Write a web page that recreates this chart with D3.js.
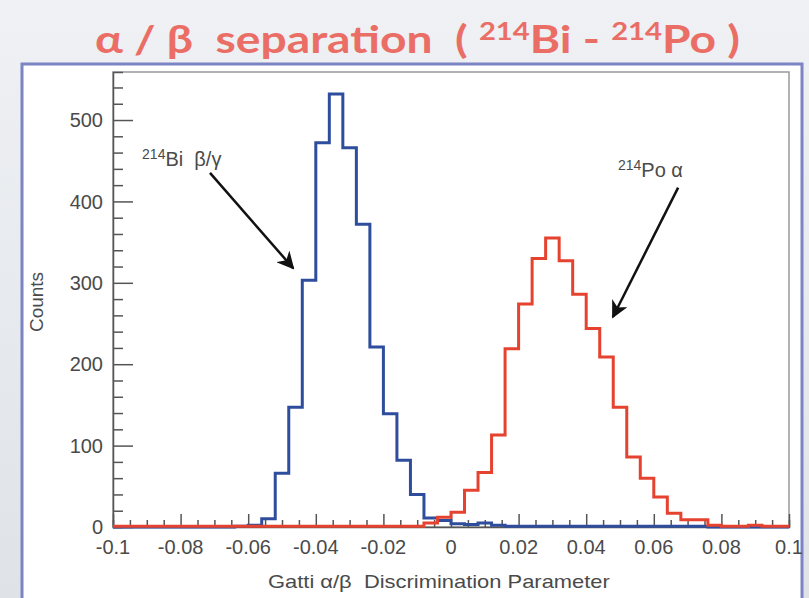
<!DOCTYPE html>
<html>
<head>
<meta charset="utf-8">
<script src="https://cdn.jsdelivr.net/npm/d3@7"></script>
<style>
  html, body { margin: 0; padding: 0; background: #e8ebef; }
  svg { display: block; }
</style>
</head>
<body>
<div id="draw"></div>
<script>
// bin lower edges (and final upper edge), Gatti parameter
const binEdges = [-0.1, -0.096, -0.092, -0.088, -0.084, -0.08, -0.076, -0.072, -0.068, -0.064,
  -0.06, -0.056, -0.052, -0.048, -0.044, -0.04, -0.036, -0.032, -0.028, -0.024,
  -0.02, -0.016, -0.012, -0.008, -0.004, 0, 0.004, 0.008, 0.012, 0.016,
  0.02, 0.024, 0.028, 0.032, 0.036, 0.04, 0.044, 0.048, 0.052, 0.056,
  0.06, 0.064, 0.068, 0.072, 0.076, 0.08, 0.084, 0.088, 0.092, 0.096, 0.1];

// 214Bi beta/gamma counts per bin
const biCounts = [0, 0, 0, 0, 0, 0, 0, 0, 0, 1,
  2, 10, 66, 147, 303, 472, 532, 466, 372, 221,
  139, 82, 40, 11, 8, 4, 3, 5, 2, 1,
  1, 1, 1, 1, 1, 1, 1, 1, 1, 1,
  1, 1, 1, 1, 0, 0, 0, 0, 0, 0];

// 214Po alpha counts per bin
const poCounts = [1, 1, 1, 1, 1, 1, 1, 1, 1, 1,
  1, 1, 1, 1, 1, 1, 1, 1, 1, 1,
  1, 1, 1, 5, 12, 18, 45, 67, 113, 219,
  274, 330, 355, 327, 286, 244, 209, 147, 86, 60,
  37, 17, 9, 9, 2, 1, 1, 2, 1, 1];

const xTicks = [-0.1, -0.08, -0.06, -0.04, -0.02, 0, 0.02, 0.04, 0.06, 0.08, 0.1];
const xTickLabels = ["-0.1", "-0.08", "-0.06", "-0.04", "-0.02", "0", "0.02", "0.04", "0.06", "0.08", "0.1"];
const yTicks = [0, 100, 200, 300, 400, 500];

let W = 809, H = 598;
let svg = d3.select('#draw').append('svg').attr('width', W).attr('height', H);

// page background
let defs = svg.append('defs');
let grad = defs.append('linearGradient').attr('id', 'bg').attr('x1', 0).attr('y1', 0).attr('x2', 0).attr('y2', 1);
grad.append('stop').attr('offset', '0%').attr('stop-color', '#eff1f4');
grad.append('stop').attr('offset', '100%').attr('stop-color', '#dfe3e8');
svg.append('rect').attr('width', W).attr('height', H).attr('fill', 'url(#bg)');

// arrowhead
defs.append('marker')
  .attr('id', 'arrowhead')
  .attr('viewBox', '0 0 10 10')
  .attr('refX', 9).attr('refY', 5)
  .attr('markerWidth', 7).attr('markerHeight', 7)
  .attr('markerUnits', 'strokeWidth')
  .attr('orient', 'auto')
  .append('path').attr('d', 'M0,0 L10,5 L0,10 L3,5 Z').attr('fill', '#111');

// title
let title = svg.append('text')
  .attr('x', 0).attr('y', 53)
  .attr('font-family', 'Lato, "Open Sans", sans-serif')
  .attr('font-weight', 700).attr('font-size', 38)
  .attr('fill', '#ea6e66')
  .style('white-space', 'pre');
title.append('tspan').text('α / β  separation  ( ');
title.append('tspan').attr('font-size', 24).attr('dy', -13).text('214');
title.append('tspan').attr('dy', 13).text('Bi - ');
title.append('tspan').attr('font-size', 24).attr('dy', -13).text('214');
title.append('tspan').attr('dy', 13).text('Po )');
let tb = title.node().getBBox();
title.attr('transform', `translate(95,0) scale(${645 / tb.width},1)`);

// outer slide frame
svg.append('rect')
  .attr('x', 22).attr('y', 64).attr('width', 780).attr('height', 560)
  .attr('fill', '#fff').attr('stroke', '#7d84c4').attr('stroke-width', 3);

// scales
let x = d3.scaleLinear().domain([-0.1, 0.1]).range([113, 789]);
let y = d3.scaleLinear().domain([0, 559]).range([527, 72]);

// plot frame
svg.append('rect')
  .attr('x', x(-0.1)).attr('y', y(559))
  .attr('width', x(0.1) - x(-0.1)).attr('height', y(0) - y(559))
  .attr('fill', 'none').attr('stroke', '#999').attr('stroke-width', 1.5);

let textCol = '#4a4a4a';
let tickFont = '"Liberation Sans", Arial, sans-serif';

// y axis (ticks point into the plot)
let yAxis = d3.axisRight(y).tickValues(d3.range(0, 559, 20)).tickSize(10).tickFormat('');
let yg = svg.append('g').attr('transform', `translate(${x(-0.1)},0)`).call(yAxis);
yg.selectAll('.tick line').attr('stroke', '#555').attr('stroke-width', 1.5)
  .filter(d => d % 100 === 0).attr('x2', 20);
yg.select('.domain').attr('stroke', '#555').attr('stroke-width', 1.5);
svg.append('g').selectAll('text').data(yTicks).join('text')
  .attr('x', 103).attr('y', d => y(d)).attr('dy', '0.36em')
  .attr('text-anchor', 'end')
  .attr('font-family', tickFont).attr('font-size', 20)
  .attr('fill', textCol).text(d => d);

// x axis (ticks point up)
let xAxis = d3.axisTop(x).tickValues(d3.range(-0.1, 0.1001, 0.005)).tickSize(7).tickFormat('');
let xg = svg.append('g').attr('transform', `translate(0,${y(0)})`).call(xAxis);
xg.selectAll('.tick line').attr('stroke', '#555').attr('stroke-width', 1.5)
  .filter(d => Math.abs(Math.round(d * 1000) % 20) === 0).attr('y2', -13);
xg.select('.domain').attr('stroke', '#555').attr('stroke-width', 1.5);
svg.append('g').selectAll('text').data(xTicks).join('text')
  .attr('x', d => x(d)).attr('y', 554)
  .attr('text-anchor', 'middle')
  .attr('font-family', tickFont).attr('font-size', 20)
  .attr('fill', textCol).text((d, i) => xTickLabels[i]);

// axis titles
let xt = svg.append('text')
  .attr('x', 0).attr('y', 588)
  .attr('font-family', tickFont).attr('font-size', 18)
  .attr('fill', textCol).text('Gatti α/β  Discrimination Parameter')
  .style('white-space', 'pre');
let xb = xt.node().getBBox();
xt.attr('transform', `translate(268,0) scale(${342 / xb.width},1)`);

svg.append('text')
  .attr('transform', 'translate(43,302) rotate(-90)')
  .attr('text-anchor', 'middle')
  .attr('font-family', tickFont).attr('font-size', 19)
  .attr('fill', textCol).text('Counts');

// histograms as step outlines
let stepLine = d3.line().x(d => x(d[0])).y(d => y(d[1])).curve(d3.curveStepAfter);
let histPts = function(counts) {
  let pts = counts.map((c, i) => [binEdges[i], c]);
  pts.push([binEdges[counts.length], counts[counts.length - 1]]);
  return pts;
};
svg.append('path').attr('d', stepLine(histPts(biCounts)))
  .attr('fill', 'none').attr('stroke', '#2e4d9c').attr('stroke-width', 3);
svg.append('path').attr('d', stepLine(histPts(poCounts)))
  .attr('fill', 'none').attr('stroke', '#e5432f').attr('stroke-width', 3);

// annotations
let bi = svg.append('text')
  .attr('x', x(-0.0914)).attr('y', y(444))
  .attr('font-family', tickFont).attr('font-size', 20).attr('fill', textCol)
  .style('white-space', 'pre');
bi.append('tspan').attr('font-size', 14).attr('dy', -7).text('214');
bi.append('tspan').attr('dy', 7).text('Bi  β/γ');

let po = svg.append('text')
  .attr('x', x(0.0494)).attr('y', y(430))
  .attr('font-family', tickFont).attr('font-size', 20).attr('fill', textCol)
  .style('white-space', 'pre');
po.append('tspan').attr('font-size', 14).attr('dy', -7).text('214');
po.append('tspan').attr('dy', 7).text('Po α');

let arrows = [
  {x1: -0.0713, y1: 435, x2: -0.0467, y2: 318},
  {x1: 0.0672, y1: 417, x2: 0.0479, y2: 258}
];
svg.append('g').selectAll('line').data(arrows).join('line')
  .attr('x1', d => x(d.x1)).attr('y1', d => y(d.y1))
  .attr('x2', d => x(d.x2)).attr('y2', d => y(d.y2))
  .attr('stroke', '#111').attr('stroke-width', 2.5)
  .attr('marker-end', 'url(#arrowhead)');
</script>
</body>
</html>
